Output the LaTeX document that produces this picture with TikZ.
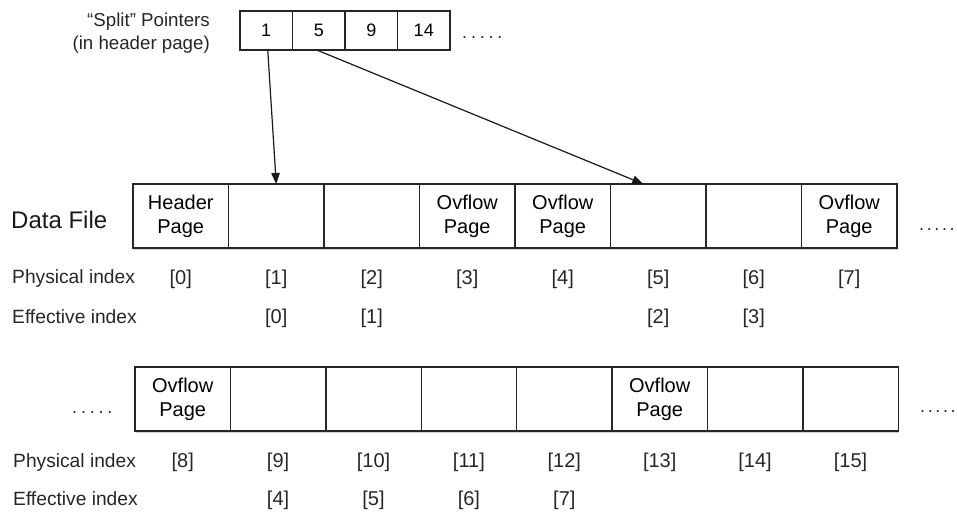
\documentclass[tikz,border=0pt]{standalone}
\usepackage{fontspec}
\setmainfont{Liberation Sans}
\usetikzlibrary{arrows.meta,shadows,calc}
\begin{document}
\begin{tikzpicture}[x=1pt,y=-1pt,
  cell/.style={draw=black!85, line width=1.4pt, fill=white, inner sep=0pt, outer sep=0pt,
    minimum width=95.5pt, minimum height=64pt, align=center,
    font=\fontsize{20}{24}\selectfont,
    drop shadow={shadow xshift=1pt, shadow yshift=-1.5pt, opacity=0.3, fill=black!60}},
  pcell/.style={draw=black!85, line width=1.4pt, fill=white, inner sep=0pt, outer sep=0pt,
    minimum width=52.5pt, minimum height=39pt, font=\fontsize{18}{20}\selectfont,
    drop shadow={shadow xshift=1pt, shadow yshift=-1.5pt, opacity=0.3, fill=black!60}},
  idx/.style={anchor=base, inner sep=0pt, text=black!85, font=\fontsize{20}{24}\selectfont},
  rowlab/.style={anchor=base west, inner sep=0pt, text=black!85, font=\fontsize{19.2}{22}\selectfont},
  dots/.style={inner sep=0pt, anchor=base west, text=black!85, font=\fontsize{18}{20}\selectfont},
  ptr/.style={-{Triangle[length=11pt,width=8.5pt]}, line width=1.2pt, draw=black!90}
]
\useasboundingbox (0,0) rectangle (957,511);

% split pointers
\node[anchor=base east, inner sep=0pt, text=black!85,
      font=\fontsize{18.7}{22}\selectfont] (plab) at (210,27) {``Split'' Pointers};
\node[anchor=base east, inner sep=0pt, text=black!85,
      font=\fontsize{18.7}{22}\selectfont] (plab2) at (210,49) {(in header page)};
\foreach \n/\t [count=\i from 0] in {p1/1,p2/5,p3/9,p4/14}
  \node[pcell] (\n) at (266.25+52.5*\i,30.5) {\t};
\node[dots] (pdots) at (462,39) {.\kern3.8pt.\kern3.8pt.\kern3.8pt.\kern3.8pt.};

% Data file row 1
\node[anchor=base west, inner sep=0pt, text=black!90, font=\fontsize{24}{26}\selectfont] (dfl) at (11,228) {Data File};
\foreach \t [count=\i from 0] in {{Header\\Page},{},{},{Ovflow\\Page},{Ovflow\\Page},{},{},{Ovflow\\Page}}
  \node[cell] (d\i) at (180.75+95.5*\i,216) {\t};
\node[dots] (ddots1) at (919,230) {.\kern2.6pt.\kern2.6pt.\kern2.6pt.\kern2.6pt.};

\node[rowlab] (pl1) at (12,283) {Physical index};
\node[rowlab] (el1) at (12,323) {Effective index};
\foreach \i in {0,...,7}
  \node[idx] (pi\i) at (d\i.center |- 0,284) {[\i]};
\node[idx] (ei1) at (d1.center |- 0,323) {[0]};
\node[idx] (ei2) at (d2.center |- 0,323) {[1]};
\node[idx] (ei5) at (d5.center |- 0,323) {[2]};
\node[idx] (ei6) at (d6.center |- 0,323) {[3]};

% row 2
\node[dots] (ldots2) at (72,413) {.\kern3.8pt.\kern3.8pt.\kern3.8pt.\kern3.8pt.};
\foreach \t [count=\i from 8] in {{Ovflow\\Page},{},{},{},{},{Ovflow\\Page},{},{}}
  \node[cell, minimum width=95.4pt] (d\i) at (182.7+95.4*\i-763.2,399) {\t};
\node[dots] (ddots2) at (920,412) {.\kern2.6pt.\kern2.6pt.\kern2.6pt.\kern2.6pt.};

\node[rowlab] (pl2) at (13,467) {Physical index};
\node[rowlab] (el2) at (13,505) {Effective index};
\foreach \i in {8,...,15}
  \node[idx] (pi\i) at (d\i.center |- 0,467) {[\i]};
\node[idx] (ei9) at (d9.center |- 0,505) {[4]};
\node[idx] (ei10) at (d10.center |- 0,505) {[5]};
\node[idx] (ei11) at (d11.center |- 0,505) {[6]};
\node[idx] (ei12) at (d12.center |- 0,505) {[7]};

% pointers
\draw[ptr] ([xshift=1.5pt]p1.south) -- (d1.north);
\draw[ptr] ([xshift=-2pt]p2.south) -- ([xshift=-15pt]d5.north);
\end{tikzpicture}
\end{document}
